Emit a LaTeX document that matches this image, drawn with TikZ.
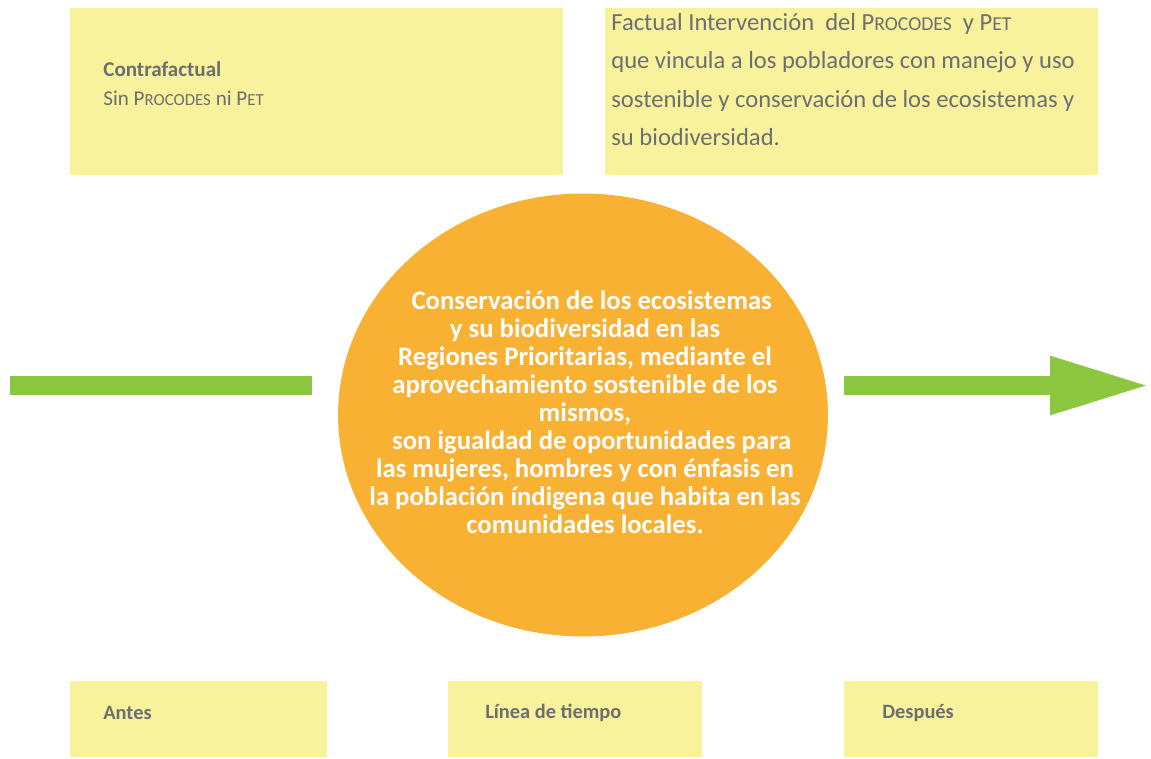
\documentclass[tikz,border=0pt]{standalone}
\usepackage{fontspec}
\setmainfont{Carlito}
\usetikzlibrary{shapes.geometric,arrows.meta}
\definecolor{notebg}{RGB}{249,242,157}
\definecolor{circorange}{RGB}{249,177,52}
\definecolor{bargreen}{RGB}{141,198,63}
\definecolor{textgrey}{RGB}{109,110,113}
\newcommand{\fakesc}[2]{#1\scalebox{0.8}{\MakeUppercase{#2}}}
\tikzset{
  note/.style={fill=notebg,draw=none,inner sep=0pt,anchor=north west},
  notetext/.style={text=textgrey,inner sep=0pt,align=left,anchor=west},
  bar/.style={draw=bargreen,line width=0.38cm},
}
\begin{document}
\begin{tikzpicture}[x=0.02cm,y=-0.02cm]
    \useasboundingbox (0,0) rectangle (1151,758);
    % boxes
    \node[note,minimum width=9.86cm,minimum height=3.34cm] (contra) at (70,8) {};
    \node[note,minimum width=9.86cm,minimum height=3.34cm] (factual) at (605,8) {};
    \node[note,minimum width=5.14cm,minimum height=1.52cm] (antes) at (70,681) {};
    \node[note,minimum width=5.08cm,minimum height=1.52cm] (linea) at (448,681) {};
    \node[note,minimum width=5.08cm,minimum height=1.52cm] (despues) at (844,681) {};
    \node[ellipse,fill=circorange,inner sep=0pt,minimum width=9.8cm,minimum height=8.86cm] (circ) at (583,415) {};
    % texts
    \node[notetext,font=\fontsize{12}{16.4}\selectfont] (contratext) at (103,84)
        {\textbf{Contrafactual}\\Sin \fakesc{P}{rocodes} ni \fakesc{P}{et}};
    \node[notetext,anchor=north west,font=\fontsize{14}{21.9}\selectfont] (factualtext) at (611,13)
        {Factual Intervención \ del \fakesc{P}{rocodes} \ y \fakesc{P}{et}\\
         que vincula a los pobladores con manejo y uso\\
         sostenible y conservación de los ecosistemas y\\
         su biodiversidad.};
    \node[text=white,inner sep=0pt,align=center,font=\fontsize{15.2}{15.9}\selectfont\bfseries] (circtext) at (585,412)
        {\hspace*{0.5em}Conservación de los ecosistemas\\
         y su biodiversidad en las \\
         Regiones Prioritarias, mediante el\\
         aprovechamiento sostenible de los\\
         mismos,\\
         \hspace*{0.5em}son igualdad de oportunidades para\\
         las mujeres, hombres y con énfasis en\\
         la población índigena que habita en las\\
         comunidades locales.};
    \node[notetext,font=\fontsize{11.6}{12}\selectfont\bfseries] (antestext) at (103,713) {Antes};
    \node[notetext,font=\fontsize{11.6}{12}\selectfont\bfseries] (lineatext) at (485,713) {Línea de tiempo};
    \node[notetext,font=\fontsize{11.6}{12}\selectfont\bfseries] (despuestext) at (882,713) {Después};
    % time bars
    \coordinate (barstart) at (10,385.5);
    \coordinate (barend) at (312,385.5);
    \coordinate (arrowstart) at (844,385.5);
    \coordinate (arrowtip) at (1151,385.5);
    \draw[bar] (barstart) -- (barend);
    \draw[bar,-{Triangle[length=2.02cm,width=1.07cm]}] (arrowstart) -- (arrowtip);
\end{tikzpicture}
\end{document}
